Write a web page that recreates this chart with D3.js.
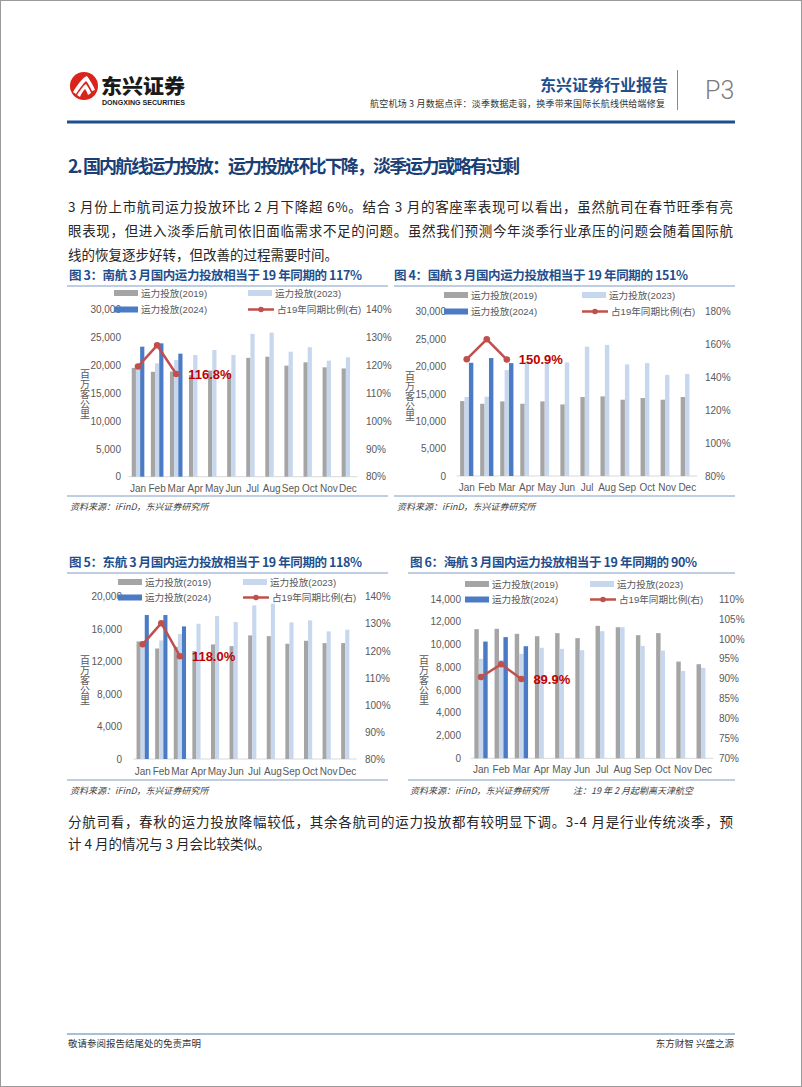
<!DOCTYPE html>
<html>
<head>
<meta charset="utf-8">
<script src="https://cdn.jsdelivr.net/npm/d3@7"></script>
<style>
  body { margin: 0; background: #fff; }
  svg { display: block; }
</style>
</head>
<body>
<script>
// ---- data ----
var months = ["Jan", "Feb", "Mar", "Apr", "May", "Jun", "Jul", "Aug", "Sep", "Oct", "Nov", "Dec"];
var seriesNames = ["运力投放(2019)", "运力投放(2023)", "运力投放(2024)", "占19年同期比例(右)"];

// 南航
var csa2019 = [19500, 18800, 18850, 18200, 19000, 18500, 21300, 21500, 19900, 20500, 19600, 19400];
var csa2023 = [19300, 20300, 20900, 21800, 22700, 21800, 25600, 25800, 22400, 23200, 20800, 21400];
var csa2024 = [23300, 23900, 22050];
var csaRatio = [119.5, 127.1, 116.8];
var csaLeftTicks = [0, 5000, 10000, 15000, 20000, 25000, 30000];
var csaRightTicks = [80, 90, 100, 110, 120, 130, 140];

// 国航
var ca2019 = [13680, 13190, 13620, 13190, 13620, 13070, 14420, 14540, 13930, 14230, 13930, 14420];
var ca2023 = [14420, 14480, 19330, 20860, 20800, 20740, 23620, 23930, 20370, 20610, 18470, 18650];
var ca2024 = [20670, 21530, 20610];
var caRatio = [151.1, 163.2, 150.9];
var caLeftTicks = [0, 5000, 10000, 15000, 20000, 25000, 30000];
var caRightTicks = [80, 100, 120, 140, 160, 180];

// 东航
var ces2019 = [14490, 13620, 13830, 13300, 14120, 13910, 15230, 15140, 14200, 14570, 14280, 14280];
var ces2023 = [14000, 14610, 15390, 16670, 17610, 16870, 18930, 19140, 16830, 17080, 15720, 15930];
var ces2024 = [17740, 17740, 16340];
var cesRatio = [122.4, 130.2, 118.0];
var cesLeftTicks = [0, 4000, 8000, 12000, 16000, 20000];
var cesRightTicks = [80, 90, 100, 110, 120, 130, 140];

// 海航
var hna2019 = [11350, 11380, 10940, 10730, 11000, 10560, 11640, 11520, 10820, 11000, 8500, 8270];
var hna2023 = [8740, 8640, 9180, 9710, 9620, 9500, 11170, 11520, 9880, 9470, 7680, 7950];
var hna2024 = [10260, 10650, 9850];
var hnaRatio = [90.4, 93.6, 89.9];
var hnaLeftTicks = [0, 2000, 4000, 6000, 8000, 10000, 12000, 14000];
var hnaRightTicks = [70, 75, 80, 85, 90, 95, 100, 105, 110];

var cjk = '"Noto Sans CJK SC", sans-serif';
var latin = '"Liberation Sans", Arial, "Noto Sans CJK SC", sans-serif';
var barColors = ["#a5a5a5", "#c6d7ee", "#4a7bc4"];
var red = "#c0504d";

var svg = d3.select("body").append("svg")
    .attr("width", 802)
    .attr("height", 1087);

// page frame
svg.append("rect")
    .attr("x", 0.5).attr("y", 0.5)
    .attr("width", 801).attr("height", 1086)
    .attr("fill", "none").attr("stroke", "#9a9a9a");

// ---- header ----
var logo = svg.append("g").attr("transform", "translate(84,86)");
logo.append("circle").attr("r", 14).attr("fill", "#d9241c");
logo.append("path")
    .attr("d", "M-11,6 C-6,-2 -1,-9 3,-10 C6,-6 9,-1 11,4 L8,5 C6,1 4,-3 2,-5 C-1,-2 -5,3 -8,8 Z")
    .attr("fill", "#fff");
logo.append("path")
    .attr("d", "M-7,9 C-3,3 0,-1 2,-2 C4,1 6,4 7,7 L4,9 C3,6 2,4 1,3 C-1,5 -3,8 -4,11 Z")
    .attr("fill", "#fff");

svg.append("text")
    .attr("x", 101).attr("y", 94)
    .style("font-family", cjk).style("font-size", "20px").style("font-weight", "900")
    .attr("fill", "#1a1a1a")
    .attr("textLength", 84).attr("lengthAdjust", "spacingAndGlyphs")
    .text("东兴证券");
svg.append("text")
    .attr("x", 102).attr("y", 105)
    .style("font-family", latin).style("font-size", "6.3px").style("font-weight", "bold")
    .attr("fill", "#1a1a1a")
    .attr("textLength", 83).attr("lengthAdjust", "spacingAndGlyphs")
    .text("DONGXING SECURITIES");

svg.append("text")
    .attr("x", 668).attr("y", 91).attr("text-anchor", "end")
    .style("font-family", cjk).style("font-size", "16px").style("font-weight", "bold")
    .attr("fill", "#1f4e8d")
    .text("东兴证券行业报告");
svg.append("text")
    .attr("x", 665).attr("y", 107).attr("text-anchor", "end")
    .style("font-family", cjk).style("font-size", "9px")
    .attr("fill", "#333")
    .attr("textLength", 295).attr("lengthAdjust", "spacing")
    .text("航空机场 3 月数据点评：淡季数据走弱，换季带来国际长航线供给端修复");
svg.append("line")
    .attr("x1", 677.5).attr("x2", 677.5).attr("y1", 70).attr("y2", 110)
    .attr("stroke", "#8c8c8c").attr("stroke-width", 1);
svg.append("text")
    .attr("x", 705).attr("y", 99)
    .style("font-family", "Roboto, sans-serif").style("font-size", "25px").style("font-weight", "300")
    .attr("fill", "#7a7a7a")
    .text("P3");
svg.append("line")
    .attr("x1", 67).attr("x2", 735).attr("y1", 122).attr("y2", 122)
    .attr("stroke", "#1f4e8d").attr("stroke-width", 3);

// ---- section heading and body text ----
svg.append("text")
    .attr("x", 68).attr("y", 173)
    .style("font-family", cjk).style("font-size", "18px").style("font-weight", "bold")
    .attr("fill", "#1b3f75")
    .attr("textLength", 452).attr("lengthAdjust", "spacing")
    .text("2.\u00a0国内航线运力投放：运力投放环比下降，淡季运力或略有过剩");

function paragraph(lines, y0, lh) {
  lines.forEach(function(l, i) {
    var t = svg.append("text")
        .attr("x", 68).attr("y", y0 + i * lh)
        .style("font-family", cjk).style("font-size", "13.5px")
        .attr("fill", "#262626")
        .text(l.text);
    if (l.justify) t.attr("textLength", 665).attr("lengthAdjust", "spacing");
  });
}

paragraph([
  { text: "3 月份上市航司运力投放环比 2 月下降超 6%。结合 3 月的客座率表现可以看出，虽然航司在春节旺季有亮", justify: true },
  { text: "眼表现，但进入淡季后航司依旧面临需求不足的问题。虽然我们预测今年淡季行业承压的问题会随着国际航", justify: true },
  { text: "线的恢复逐步好转，但改善的过程需要时间。", justify: false }
], 212, 24);

paragraph([
  { text: "分航司看，春秋的运力投放降幅较低，其余各航司的运力投放都有较明显下调。3-4 月是行业传统淡季，预", justify: true },
  { text: "计 4 月的情况与 3 月会比较类似。", justify: false }
], 827, 22);

// ---- footer ----
svg.append("line")
    .attr("x1", 67).attr("x2", 735).attr("y1", 1034).attr("y2", 1034)
    .attr("stroke", "#a9bfd3").attr("stroke-width", 2);
svg.append("text")
    .attr("x", 68).attr("y", 1047)
    .style("font-family", cjk).style("font-size", "9.5px").attr("fill", "#333")
    .text("敬请参阅报告结尾处的免责声明");
svg.append("text")
    .attr("x", 734).attr("y", 1047).attr("text-anchor", "end")
    .style("font-family", cjk).style("font-size", "9.5px").attr("fill", "#333")
    .text("东方财智 兴盛之源");

// ---- chart builder ----
function drawChart(c) {
  var g = svg.append("g");

  // title and frame lines
  g.append("text")
      .attr("x", c.titleX).attr("y", c.titleY)
      .style("font-family", cjk).style("font-size", "12.5px").style("font-weight", "bold")
      .attr("fill", "#1f4e8d")
      .attr("textLength", c.titleLen).attr("lengthAdjust", "spacing")
      .text(c.title);
  [c.topLine, c.bottomLine].forEach(function(yy) {
    g.append("line")
        .attr("x1", c.lineX0).attr("x2", c.lineX1).attr("y1", yy).attr("y2", yy)
        .attr("stroke", "#7f9cc4").attr("stroke-width", 1);
  });
  c.sources.forEach(function(s) {
    g.append("text")
        .attr("x", s.x).attr("y", c.bottomLine + 14)
        .style("font-family", cjk).style("font-size", "9px").style("font-style", "italic")
        .attr("fill", "#404040")
        .text(s.text);
  });

  // scales
  var x = d3.scaleBand().domain(months).range(c.xRange).paddingInner(0.34).paddingOuter(0.17);
  var xs = d3.scaleBand().domain([0, 1, 2]).range([0, x.bandwidth()]);
  var y = d3.scaleLinear().domain(d3.extent(c.leftTicks)).range(c.yRange);
  var yR = d3.scaleLinear().domain(d3.extent(c.rightTicks)).range(c.yRange);

  // axes (text only, no tick marks)
  var leftAxis = d3.axisLeft(y).tickValues(c.leftTicks).tickFormat(d3.format(",")).tickSize(0).tickPadding(0);
  var gl = g.append("g").attr("transform", "translate(" + c.leftLabelX + ",0)").call(leftAxis);
  var rightAxis = d3.axisRight(yR).tickValues(c.rightTicks).tickFormat(function(d) { return d + "%"; }).tickSize(0).tickPadding(0);
  var gr = g.append("g").attr("transform", "translate(" + c.rightLabelX + ",0)").call(rightAxis);
  var bottomAxis = d3.axisBottom(x).tickSize(0).tickPadding(0);
  var gb = g.append("g").attr("transform", "translate(0," + c.xLabelY + ")").call(bottomAxis);
  [gl, gr, gb].forEach(function(a) {
    a.select(".domain").remove();
    a.selectAll("text")
        .style("font-family", latin).style("font-size", "10px")
        .attr("fill", "#595959");
  });
  gb.selectAll("text").attr("dy", "0.35em").attr("y", 0);

  // baseline
  g.append("line")
      .attr("x1", c.xRange[0]).attr("x2", c.xRange[1])
      .attr("y1", y(0)).attr("y2", y(0))
      .attr("stroke", "#d9d9d9").attr("stroke-width", 1);

  // unit label, written vertically
  g.append("text")
      .attr("x", c.unitX).attr("y", c.unitY)
      .attr("text-anchor", "middle")
      .style("writing-mode", "vertical-rl")
      .style("font-family", cjk).style("font-size", "10px")
      .attr("fill", "#595959")
      .text("百万客公里");

  // bars
  var series = [c.s2019, c.s2023, c.s2024];
  series.forEach(function(vals, si) {
    g.selectAll(".bar" + si)
        .data(vals)
        .enter().append("rect")
        .attr("x", function(d, i) { return x(months[i]) + xs(si); })
        .attr("width", xs.bandwidth())
        .attr("y", function(d) { return y(d); })
        .attr("height", function(d) { return y(0) - y(d); })
        .attr("fill", barColors[si]);
  });

  // ratio line
  var line = d3.line()
      .x(function(d, i) { return x(months[i]) + x.bandwidth() / 2; })
      .y(function(d) { return yR(d); });
  g.append("path")
      .datum(c.ratio)
      .attr("d", line)
      .attr("fill", "none").attr("stroke", red).attr("stroke-width", 2.5)
      .attr("stroke-linejoin", "miter");
  g.selectAll(".pt")
      .data(c.ratio)
      .enter().append("circle")
      .attr("cx", function(d, i) { return x(months[i]) + x.bandwidth() / 2; })
      .attr("cy", function(d) { return yR(d); })
      .attr("r", 3.3)
      .attr("fill", red);

  var last = c.ratio.length - 1;
  g.append("text")
      .attr("x", x(months[last]) + x.bandwidth() / 2 + 12)
      .attr("y", yR(c.ratio[last]))
      .attr("dominant-baseline", "central")
      .style("font-family", latin).style("font-size", "13px").style("font-weight", "bold")
      .attr("fill", "#c00000")
      .text(c.ratio[last].toFixed(1) + "%");

  // legend
  var legendItems = [
    { name: seriesNames[0], kind: "bar", color: barColors[0], col: 0, row: 0 },
    { name: seriesNames[1], kind: "bar", color: barColors[1], col: 1, row: 0 },
    { name: seriesNames[2], kind: "bar", color: barColors[2], col: 0, row: 1 },
    { name: seriesNames[3], kind: "line", color: red, col: 1, row: 1 }
  ];
  legendItems.forEach(function(it) {
    var lx = c.legendCols[it.col], ly = c.legendRows[it.row];
    if (it.kind === "bar") {
      g.append("rect").attr("x", lx).attr("y", ly - 3).attr("width", 24).attr("height", 6).attr("fill", it.color);
    } else {
      g.append("line").attr("x1", lx).attr("x2", lx + 26).attr("y1", ly).attr("y2", ly)
          .attr("stroke", it.color).attr("stroke-width", 2.5);
      g.append("circle").attr("cx", lx + 13).attr("cy", ly).attr("r", 2.8).attr("fill", it.color);
    }
    g.append("text")
        .attr("x", lx + (it.kind === "bar" ? 27 : 29)).attr("y", ly)
        .attr("dominant-baseline", "central")
        .style("font-family", latin).style("font-size", "9.6px")
        .attr("fill", "#595959")
        .text(it.name);
  });
}

drawChart({
  title: "图 3：南航 3 月国内运力投放相当于 19 年同期的 117%",
  titleX: 69, titleY: 280, titleLen: 293,
  lineX0: 67, lineX1: 388, topLine: 286, bottomLine: 496,
  sources: [{ x: 70, text: "资料来源：iFinD，东兴证券研究所" }],
  xRange: [128.5, 357.5], yRange: [476.7, 309.3],
  leftLabelX: 121, rightLabelX: 366, xLabelY: 488,
  unitX: 85, unitY: 394,
  legendRows: [293, 309.5], legendCols: [114, 248],
  s2019: csa2019, s2023: csa2023, s2024: csa2024, ratio: csaRatio,
  leftTicks: csaLeftTicks, rightTicks: csaRightTicks
});

drawChart({
  title: "图 4：国航 3 月国内运力投放相当于 19 年同期的 151%",
  titleX: 394, titleY: 280, titleLen: 294,
  lineX0: 394, lineX1: 735, topLine: 286, bottomLine: 496,
  sources: [{ x: 397, text: "资料来源：iFinD，东兴证券研究所" }],
  xRange: [456.7, 697.3], yRange: [476, 311.7],
  leftLabelX: 446, rightLabelX: 705, xLabelY: 487,
  unitX: 410, unitY: 396,
  legendRows: [295, 311.5], legendCols: [444, 582],
  s2019: ca2019, s2023: ca2023, s2024: ca2024, ratio: caRatio,
  leftTicks: caLeftTicks, rightTicks: caRightTicks
});

drawChart({
  title: "图 5：东航 3 月国内运力投放相当于 19 年同期的 118%",
  titleX: 69, titleY: 567, titleLen: 293,
  lineX0: 67, lineX1: 388, topLine: 573, bottomLine: 780,
  sources: [{ x: 70, text: "资料来源：iFinD，东兴证券研究所" }],
  xRange: [133.4, 356.6], yRange: [759, 596.7],
  leftLabelX: 122, rightLabelX: 365, xLabelY: 771,
  unitX: 85, unitY: 680,
  legendRows: [582, 597.5], legendCols: [118, 243],
  s2019: ces2019, s2023: ces2023, s2024: ces2024, ratio: cesRatio,
  leftTicks: cesLeftTicks, rightTicks: cesRightTicks
});

drawChart({
  title: "图 6：海航 3 月国内运力投放相当于 19 年同期的 90%",
  titleX: 410, titleY: 567, titleLen: 287,
  lineX0: 408, lineX1: 735, topLine: 573, bottomLine: 780,
  sources: [
    { x: 410, text: "资料来源：iFinD，东兴证券研究所" },
    { x: 573, text: "注：19 年 2 月起剔离天津航空" }
  ],
  xRange: [470.9, 713.3], yRange: [758.3, 599],
  leftLabelX: 461, rightLabelX: 719, xLabelY: 769,
  unitX: 424, unitY: 680,
  legendRows: [584, 599.5], legendCols: [465, 590],
  s2019: hna2019, s2023: hna2023, s2024: hna2024, ratio: hnaRatio,
  leftTicks: hnaLeftTicks, rightTicks: hnaRightTicks
});
</script>
</body>
</html>
